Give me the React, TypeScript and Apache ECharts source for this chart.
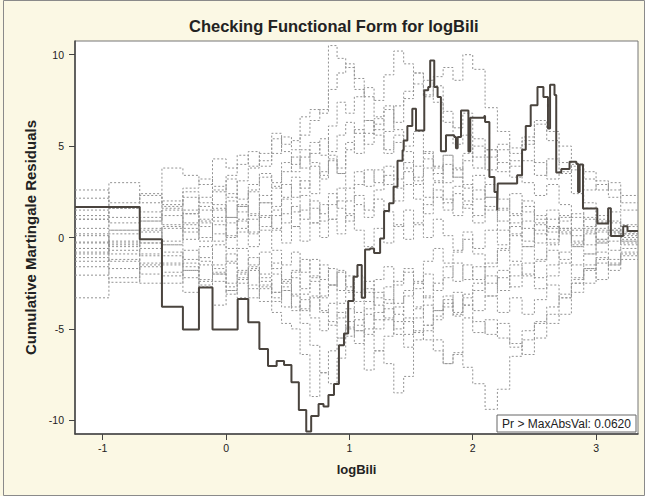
import React, { useEffect, useRef } from "react";
import * as echarts from "echarts";

const xTicks = [-1, 0, 1, 2, 3];
const yTicks = [-10, -5, 0, 5, 10];

// Observed cumulative martingale residual path (step starts)
const obsX = [
  -1.225, -0.7, -0.52, -0.35, -0.22, -0.11, 0.094, 0.18, 0.27, 0.34, 0.41, 0.47, 0.53, 0.59, 0.65, 0.69,
  0.75, 0.79, 0.83, 0.875, 0.915, 0.956, 0.99, 1.033, 1.065, 1.1, 1.127, 1.167, 1.2, 1.249, 1.281, 1.322,
  1.358, 1.39, 1.431, 1.44, 1.47, 1.51, 1.54, 1.607, 1.639, 1.655, 1.688, 1.715, 1.742, 1.783, 1.85, 1.864,
  1.878, 1.905, 1.965, 1.98, 2.094, 2.1, 2.135, 2.176, 2.198, 2.203, 2.36, 2.4, 2.43, 2.47, 2.525, 2.573,
  2.61, 2.627, 2.663, 2.677, 2.718, 2.785, 2.84, 2.854, 2.867, 2.894, 3.01, 3.098, 3.12, 3.22, 3.255, 3.34,
];
const obsY = [
  1.67, -0.1, -3.79, -5.03, -2.73, -5.03, -3.37, -4.64, -6.1, -7.03, -6.76, -6.98, -7.92, -9.44, -10.62, -9.77,
  -9.11, -9.25, -8.62, -8.02, -5.89, -5.25, -3.48, -2.15, -1.51, -3.3, -0.65, -0.6, -0.85, -0.05, 1.45, 1.87,
  2.77, 4.2, 4.77, 5.3, 6.1, 7.05, 5.86, 8.05, 8.23, 9.69, 8.23, 7.68, 4.72, 5.59, 5.5, 4.88,
  5.5, 6.95, 4.7, 6.55, 6.65, 6.32, 3.31, 2.49, 1.49, 2.95, 3.4, 4.8, 6.1, 7.23, 8.23, 7.68,
  5.96, 8.35, 7.8, 3.55, 3.75, 4.15, 4.04, 2.49, 4.0, 1.58, 0.77, 1.6, 0.08, 0.62, 0.35, 0.35,
];

// Simulated paths, evaluated at common step positions
const simX = [
  -1.225, -0.95, -0.7, -0.52, -0.35, -0.22, -0.11, 0.0, 0.09, 0.18, 0.27, 0.37, 0.45, 0.53, 0.6, 0.68,
  0.76, 0.83, 0.9, 0.97, 1.04, 1.12, 1.2, 1.28, 1.36, 1.44, 1.52, 1.6, 1.68, 1.76, 1.84, 1.92,
  2.0, 2.1, 2.2, 2.3, 2.4, 2.5, 2.6, 2.7, 2.8, 2.9, 3.0, 3.1, 3.2, 3.34,
];
const simA = [1.2, 3.0, 1.9, 3.8, 3.4, 2.9, 4.3, 3.8, 4.5, 3.9, 4.2, 5.7, 5.1, 5.3, 6.6, 7.0, 6.8, 10.5, 9.8, 9.3, 8.1, 6.4, 5.9, 4.6, 5.2, 3.8, 3.1, 2.2, 3.0, 2.1, 1.2, 1.8, 2.6, 1.5, 0.4, 1.2, 0.5, -0.3, 0.6, 0.2, -0.5, 0.3, 0.8, 0.2, -0.2, -0.2];
const simB = [0.1, -0.5, 0.9, 1.6, 2.2, 1.5, 2.6, 3.2, 2.1, 2.9, 3.5, 3.0, 4.1, 3.6, 4.4, 5.2, 4.5, 6.1, 7.4, 6.8, 7.7, 8.2, 7.5, 8.9, 10.2, 9.5, 9.0, 7.8, 8.3, 6.9, 6.0, 6.8, 5.4, 4.8, 3.6, 4.2, 3.0, 2.3, 2.9, 1.8, 1.1, 1.6, 0.9, 0.5, 0.2, 0.2];
const simC = [-0.3, 0.4, -0.6, 0.5, 1.3, 0.6, -0.2, 1.1, 1.8, 1.2, 2.3, 1.7, 2.9, 2.2, 3.1, 2.4, 3.6, 4.3, 3.5, 4.8, 5.9, 5.1, 6.2, 7.0, 6.3, 7.6, 8.4, 7.7, 8.8, 9.3, 8.6, 10.0, 9.2, 7.1, 5.8, 4.9, 5.3, 4.1, 3.2, 3.6, 2.4, 1.9, 1.2, 1.4, 0.6, 0.6];
const simD = [-2.06, -1.2, -2.5, -1.9, -3.0, -2.3, -3.7, -2.9, -3.3, -2.6, -3.5, -4.1, -4.7, -5.0, -6.4, -8.7, -7.4, -6.2, -5.5, -4.6, -5.1, -3.9, -3.0, -3.6, -2.4, -1.7, -2.5, -1.3, -0.6, -1.4, -0.8, -0.1, -0.9, -1.6, -0.7, 0.2, -0.5, 0.4, -0.3, 0.5, 0.1, -0.4, 0.3, -0.2, 0.1, 0.1];
const simE = [-1.6, -2.45, -1.5, -2.1, -1.4, -2.6, -1.9, -2.7, -2.0, -3.3, -2.8, -3.5, -2.9, -4.0, -3.4, -4.4, -5.1, -4.6, -5.5, -4.9, -5.1, -7.25, -6.2, -6.9, -8.5, -7.6, -5.6, -5.1, -4.3, -3.6, -4.2, -3.1, -2.5, -3.2, -2.2, -1.5, -2.1, -1.3, -0.7, -1.2, -0.5, -0.9, -0.2, 0.3, -0.1, -0.1];
const simF = [-0.8, -0.2, -1.0, -0.4, -1.2, -0.5, -1.5, -0.9, -1.8, -1.1, -2.0, -1.4, -2.3, -1.8, -2.8, -2.1, -3.2, -2.6, -3.6, -3.0, -4.1, -3.5, -4.5, -3.9, -5.0, -4.4, -5.2, -4.8, -5.6, -6.9, -6.3, -7.1, -8.0, -9.4, -8.3, -6.5, -5.6, -4.7, -4.2, -3.3, -2.5, -1.8, -1.2, -1.5, -0.8, -0.8];
const simG = [2.6, 1.9, 2.4, 1.8, 2.7, 3.2, 2.5, 3.4, 4.0, 4.7, 3.9, 4.6, 5.5, 4.8, 5.6, 6.4, 7.0, 8.1, 9.0, 9.5, 8.7, 7.7, 6.6, 7.2, 5.9, 5.0, 5.8, 4.6, 3.8, 4.5, 3.3, 2.7, 3.4, 2.2, 1.6, 2.4, 1.4, 0.8, 1.5, 0.9, 1.3, 0.6, 1.0, 0.4, 0.7, 0.7];
const simH = [2.15, 1.6, 0.9, 1.5, 0.8, 1.7, 1.1, 2.0, 1.4, 2.5, 1.9, 2.8, 2.2, 3.3, 2.7, 3.9, 3.2, 4.5, 3.8, 5.2, 4.6, 5.7, 6.5, 5.8, 7.2, 8.0, 9.0, 8.6, 7.4, 6.3, 5.1, 5.6, 4.4, 3.7, 4.8, 3.9, 5.1, 6.2, 5.3, 4.1, 3.7, 2.6, 2.9, 2.2, 1.5, 1.5];
const simI = [-1.1, -1.7, -0.9, -1.5, -0.7, -1.3, -2.0, -1.4, -2.2, -1.6, -2.4, -3.0, -2.4, -3.2, -4.0, -3.3, -4.1, -3.6, -4.4, -3.9, -4.8, -4.2, -5.0, -4.4, -5.3, -6.0, -5.1, -5.6, -6.2, -6.9, -6.4, -4.4, -5.2, -4.5, -5.5, -6.0, -5.1, -4.6, -3.8, -3.1, -2.3, -1.7, -1.1, -1.4, -0.9, -0.9];
const simJ = [-0.6, 0.2, -0.3, 0.6, -0.1, 0.8, 0.2, -0.6, 0.3, -0.5, 0.4, -0.7, -1.5, -0.8, -1.9, -1.2, -2.3, -1.7, -2.9, -2.1, -3.0, -2.4, -3.3, -2.7, -3.6, -2.9, -3.8, -3.2, -4.0, -3.4, -4.3, -3.7, -4.6, -5.3, -4.7, -5.8, -6.4, -5.5, -4.7, -4.2, -3.0, -2.5, -1.4, -1.8, -1.0, -1.0];
const simK = [0.5, 1.1, 0.4, 1.2, 0.3, 1.0, 1.8, 1.1, 0.5, 1.3, 0.6, 1.5, 0.8, 1.7, 1.0, 2.0, 1.3, 2.4, 1.6, 0.9, 1.8, 1.1, 2.1, 1.4, 0.6, 1.5, 0.7, 1.8, 2.6, 1.9, 2.8, 2.0, 1.2, 2.2, 1.5, 0.8, 1.7, 1.0, 0.3, 1.1, 0.4, 1.0, 0.5, 0.9, 0.3, 0.3];
const simL = [-0.25, -0.9, -0.3, -1.0, -1.8, -1.1, -0.4, -1.3, -0.6, -1.5, -0.8, -1.7, -2.5, -1.9, -1.2, -2.2, -1.5, -2.6, -1.9, -2.9, -2.1, -3.0, -2.3, -1.6, -2.6, -1.9, -2.8, -2.0, -2.9, -2.2, -1.4, -2.3, -1.6, -2.5, -1.8, -2.7, -2.0, -2.8, -2.1, -1.4, -2.2, -1.5, -0.8, -1.2, -0.6, -0.6];
const simM = [1.0, 1.6, 2.3, 1.7, 2.5, 1.9, 2.8, 2.2, 3.1, 3.8, 4.6, 5.4, 4.7, 4.0, 4.8, 4.1, 3.4, 4.2, 3.5, 2.7, 3.6, 2.8, 3.7, 2.9, 2.0, 2.9, 2.1, 1.3, 2.2, 1.5, 2.4, 1.6, 0.8, 1.7, 0.9, 0.1, 0.9, 0.2, 1.0, 0.4, -0.3, 0.5, -0.1, 0.4, 0.0, 0.0];
const simN = [-3.3, -2.2, -1.6, -2.5, -1.8, -2.7, -2.0, -2.9, -2.3, -1.7, -2.6, -3.3, -2.7, -3.8, -4.7, -5.9, -7.4, -8.0, -6.6, -5.4, -4.5, -5.3, -4.1, -3.4, -4.2, -3.2, -2.4, -3.3, -2.5, -1.6, -2.4, -1.5, -2.3, -1.4, -0.6, -1.3, -0.5, -1.2, -0.4, 0.3, -0.4, 0.2, -0.3, 0.1, -0.4, -0.4];
const simO = [-0.9, -0.3, 0.3, -0.4, 0.5, -0.2, 0.7, 0.0, 0.9, 0.2, 1.1, 0.4, 1.3, 0.6, 1.5, 0.8, 1.8, 1.0, 2.0, 1.3, 2.3, 1.5, 2.6, 3.4, 2.7, 3.6, 2.9, 3.8, 3.1, 4.0, 3.3, 4.2, 5.0, 4.4, 5.1, 4.6, 5.5, 6.4, 5.8, 5.0, 4.0, 3.6, 3.1, 2.6, 1.9, 1.9];
const simP = [-1.3, -0.7, -1.4, -0.8, -1.6, -2.4, -1.7, -2.5, -1.9, -2.8, -2.2, -3.0, -3.8, -3.1, -3.9, -3.2, -4.0, -4.8, -4.1, -5.0, -5.8, -5.0, -6.2, -5.4, -4.6, -5.3, -4.4, -3.7, -4.5, -3.8, -3.0, -3.7, -2.9, -2.1, -2.9, -2.1, -1.4, -2.2, -1.5, -0.8, -1.5, -0.9, -0.3, -0.7, -0.2, -0.2];
const simQ = [1.5, 0.8, 1.4, 0.7, 1.5, 0.9, 1.6, 0.8, 1.7, 1.0, 1.9, 1.2, 2.1, 1.4, 2.3, 1.6, 0.9, 1.8, 2.7, 2.0, 2.9, 3.7, 3.0, 3.9, 3.2, 4.1, 3.3, 4.3, 3.5, 4.5, 3.7, 4.6, 3.8, 4.8, 4.1, 3.3, 4.2, 3.4, 4.3, 3.5, 3.9, 3.2, 2.6, 3.0, 2.3, 2.3];
const simR = [-0.6, -1.3, -2.0, -1.4, -2.2, -1.5, -2.4, -3.1, -2.5, -1.8, -2.7, -2.0, -2.9, -2.2, -3.1, -2.4, -3.3, -2.6, -1.8, -2.7, -3.5, -2.8, -3.7, -4.5, -3.8, -4.6, -3.9, -4.8, -4.0, -3.2, -4.1, -3.3, -4.0, -3.2, -4.1, -3.3, -4.2, -3.4, -2.6, -3.3, -2.5, -1.7, -2.3, -1.5, -1.2, -1.2];
const simS = [0.2, -0.4, 0.5, -0.2, 0.7, 0.0, 0.9, 0.1, 1.0, 0.3, 1.2, 0.5, -0.3, 0.6, -0.2, 0.8, 0.0, 1.0, 0.2, 1.2, 0.4, -0.5, 0.5, -0.3, 0.7, -0.1, 0.8, 0.0, 1.0, 0.1, -0.7, 0.3, -0.6, 0.4, -0.4, 0.6, -0.2, 0.7, -0.1, 0.5, -0.2, 0.4, -0.1, 0.3, -0.3, -0.3];
const simT = [1.0, 0.4, 1.1, 2.0, 1.3, 2.2, 1.5, 2.4, 1.7, 2.6, 3.3, 2.7, 3.6, 4.4, 3.8, 4.6, 5.4, 4.7, 5.6, 6.3, 5.7, 6.4, 5.6, 4.8, 5.6, 4.7, 3.9, 4.7, 3.9, 3.0, 3.8, 2.9, 2.1, 2.9, 2.1, 1.3, 2.0, 1.2, 0.5, 1.2, 0.5, 1.1, 0.4, 0.8, 0.2, 0.2];

const simPaths = [simA, simB, simC, simD, simE, simF, simG, simH, simI, simJ, simK, simL, simM, simN, simO, simP, simQ, simR, simS, simT];

const FONT = "'Liberation Sans', Arial, Helvetica, sans-serif";

export default function App() {
  const ref = useRef<HTMLDivElement>(null);

  useEffect(() => {
    if (!ref.current) return;
    const chart = echarts.init(ref.current, null, { renderer: "svg" });

    const simSeries = simPaths.map((p, k) => ({
      type: "line",
      name: "Simulated " + (k + 1),
      step: "end",
      symbol: "none",
      showSymbol: false,
      silent: true,
      z: 2,
      data: simX.map((x, i) => [x, p[i]]),
      lineStyle: { color: "#929292", width: 1, type: [2, 2] },
    }));

    const obsSeries = {
      type: "line",
      name: "Observed",
      step: "end",
      symbol: "none",
      showSymbol: false,
      z: 5,
      data: obsX.map((x, i) => [x, obsY[i]]),
      lineStyle: { color: "#4a443e", width: 2 },
    };

    chart.setOption({
      animation: false,
      backgroundColor: "#fbf8e4",
      title: {
        text: "Checking Functional Form for logBili",
        left: 184,
        top: 12,
        textStyle: { fontFamily: FONT, fontWeight: "bold", fontSize: 16.5, color: "#222" },
      },
      grid: {
        left: 75,
        right: 7,
        top: 41,
        bottom: 62,
        show: true,
        backgroundColor: "#ffffff",
        borderColor: "#777",
        borderWidth: 1,
      },
      xAxis: {
        type: "value",
        min: -1.225,
        max: 3.34,
        name: "logBili",
        nameLocation: "middle",
        nameGap: 29,
        nameTextStyle: { fontFamily: FONT, fontWeight: "bold", fontSize: 13, color: "#222" },
        axisLine: { show: true, onZero: false, lineStyle: { color: "#444", width: 1.5 } },
        axisTick: { show: true, length: 6, customValues: xTicks, lineStyle: { color: "#444" } },
        axisLabel: { customValues: xTicks, fontFamily: FONT, fontSize: 10.5, color: "#222", margin: 8 },
        splitLine: { show: false },
      },
      yAxis: {
        type: "value",
        min: -10.75,
        max: 10.75,
        name: "Cumulative Martingale Residuals",
        nameLocation: "middle",
        nameGap: 37,
        nameRotate: 90,
        nameTextStyle: { fontFamily: FONT, fontWeight: "bold", fontSize: 15, color: "#222" },
        axisLine: { show: true, onZero: false, lineStyle: { color: "#444", width: 1.5 } },
        axisTick: { show: true, length: 6, customValues: yTicks, lineStyle: { color: "#444" } },
        axisLabel: { customValues: yTicks, fontFamily: FONT, fontSize: 10.5, color: "#222", margin: 11 },
        splitLine: { show: false },
      },
      series: [...simSeries, obsSeries],
      graphic: [
        {
          type: "rect",
          z: 0,
          silent: true,
          shape: { x: 3.5, y: 0.5, width: 641, height: 495 },
          style: { fill: "none", stroke: "#8a8a8a", lineWidth: 1 },
        },
        {
          type: "rect",
          z: 100,
          shape: { x: 497, y: 415, width: 139, height: 17 },
          style: { fill: "#ffffff", stroke: "#666", lineWidth: 1 },
        },
        {
          type: "text",
          z: 101,
          x: 566.5,
          y: 424,
          style: {
            text: "Pr > MaxAbsVal: 0.0620",
            fill: "#222",
            font: "12px " + FONT,
            align: "center",
            verticalAlign: "middle",
          },
        },
      ],
    });

    return () => chart.dispose();
  }, []);

  return (
    <div
      ref={ref}
      style={{ position: "fixed", left: 0, top: 0, width: 645, height: 496 }}
    />
  );
}
